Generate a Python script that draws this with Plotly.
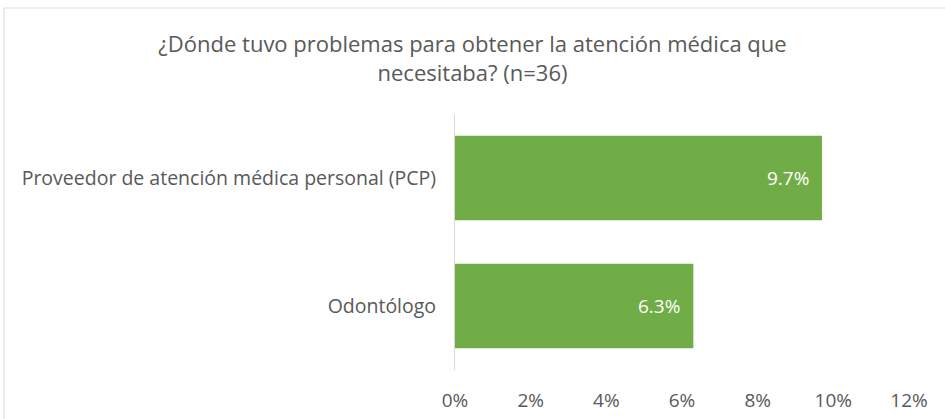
import plotly.graph_objects as go

categories = ["Odontólogo", "Proveedor de atención médica personal (PCP)"]
values = [0.063, 0.097]
labels = ["6.3%", "9.7%"]
tick_vals = [0, 0.02, 0.04, 0.06, 0.08, 0.10, 0.12]
tick_text = ["0%", "2%", "4%", "6%", "8%", "10%", "12%"]
title = "¿Dónde tuvo problemas para obtener la atención médica que<br>necesitaba? (n=36)"

W, H = 945, 419
L, R, T, B = 455, 36, 114, 49
pw = W - L - R
ph = H - T - B
FONT = "Open Sans"

fig = go.Figure(go.Bar(
    y=categories, x=values, orientation="h",
    marker=dict(color="#70AD47", line=dict(width=0)),
    width=0.66, hoverinfo="skip",
))

for cat, val, lab in zip(categories, values, labels):
    fig.add_annotation(x=val, y=cat, text=lab, showarrow=False,
                       xanchor="right", yanchor="middle", xshift=-11,
                       font=dict(color="white", size=19, family=FONT))

fig.update_layout(
    width=W, height=H,
    margin=dict(l=L, r=R, t=T, b=B, autoexpand=False),
    paper_bgcolor="white", plot_bgcolor="white",
    font=dict(family=FONT, color="#595959", size=19),
    title=dict(text=title, x=0.5, xanchor="center", xref="container",
               y=1 - 52 / H, yanchor="middle", yref="container",
               font=dict(size=22, color="#595959", family=FONT)),
    showlegend=False,
    xaxis=dict(range=[0, 0.12], tickvals=tick_vals, ticktext=tick_text,
               showgrid=False, zeroline=False, showline=False, automargin=False,
               tickfont=dict(size=19, color="#595959"), ticks="", ticklabelstandoff=17),
    yaxis=dict(showgrid=False, zeroline=False, showline=True, linecolor="#D9D9D9",
               linewidth=1, ticks="", automargin=False, range=[-0.5, 1.5],
               tickfont=dict(size=19.5, color="#595959"), ticklabelstandoff=14),
    shapes=[dict(type="rect", xref="paper", yref="paper",
                 x0=(4 - L) / pw, x1=(W + 30 - L) / pw,
                 y0=-(H + 30 - T - ph) / ph, y1=1 + (T - 8) / ph,
                 line=dict(color="#D9D9D9", width=1), fillcolor="rgba(0,0,0,0)", layer="below")],
)

fig.write_html("out.html", config={"displayModeBar": False},
               post_script="document.body.style.margin='0';document.body.style.overflow='hidden';")
